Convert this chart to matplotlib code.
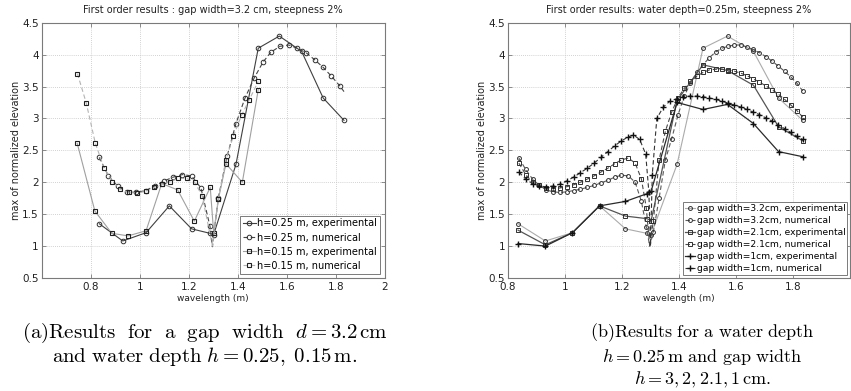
import matplotlib
matplotlib.use("Agg")
import matplotlib.pyplot as plt
from matplotlib.ticker import FixedLocator, FixedFormatter
from matplotlib.lines import Line2D

plt.rcParams['mathtext.fontset'] = 'cm'
plt.rcParams['font.family'] = ['DejaVu Sans']

# ---------------- data: panel (a) ----------------
x_exp25 = [0.835, 0.931, 1.026, 1.121, 1.212, 1.287, 1.302, 1.393, 1.484, 1.570, 1.661, 1.749, 1.834]
y_exp25 = [1.35, 1.08, 1.21, 1.63, 1.27, 1.20, 1.18, 2.28, 4.10, 4.29, 4.05, 3.32, 2.97]

x_num25 = [0.835, 0.872, 0.910, 0.948, 0.986, 1.024, 1.061, 1.099, 1.137, 1.174, 1.212, 1.250,
           1.287, 1.297, 1.321, 1.357, 1.393, 1.430, 1.467, 1.503, 1.536, 1.573, 1.609, 1.643,
           1.679, 1.714, 1.749, 1.783, 1.817, 1.834]
y_num25 = [2.39, 2.10, 1.94, 1.85, 1.84, 1.87, 1.94, 2.02, 2.08, 2.12, 2.10, 1.91,
           1.31, 0.99, 1.76, 2.41, 2.92, 3.32, 3.63, 3.88, 4.04, 4.13, 4.15, 4.10,
           4.03, 3.92, 3.80, 3.66, 3.51, 3.42]
mark_num25 = [i for i in range(len(x_num25)) if i not in (13, 29)]

x_exp15 = [0.745, 0.817, 0.886, 0.953, 1.026, 1.090, 1.155, 1.223, 1.288, 1.302, 1.321, 1.352, 1.419, 1.484]
y_exp15 = [2.61, 1.55, 1.20, 1.16, 1.24, 1.98, 1.88, 1.39, 1.92, 1.21, 1.73, 2.29, 2.00, 3.45]

x_num15 = [0.746, 0.782, 0.819, 0.854, 0.888, 0.921, 0.955, 0.991, 1.026, 1.059, 1.093, 1.125,
           1.158, 1.192, 1.224, 1.255, 1.297, 1.321, 1.352, 1.382, 1.416, 1.447, 1.484]
y_num15 = [3.70, 3.24, 2.61, 2.23, 2.01, 1.89, 1.84, 1.83, 1.86, 1.92, 1.97, 2.01,
           2.06, 2.06, 2.00, 1.79, 1.00, 1.73, 2.35, 2.72, 3.05, 3.29, 3.58]
mark_num15 = [i for i in range(len(x_num15)) if i != 16]

labels_a = ['h=0.25 m, experimental', 'h=0.25 m, numerical',
            'h=0.15 m, experimental', 'h=0.15 m, numerical']

# ---------------- data: panel (b) ----------------
x_exp = [0.835, 0.931, 1.026, 1.121, 1.212, 1.287, 1.302, 1.393, 1.484, 1.570, 1.661, 1.749, 1.834]
y_exp32 = [1.35, 1.08, 1.21, 1.63, 1.27, 1.20, 1.18, 2.28, 4.10, 4.29, 4.05, 3.32, 2.97]
y_exp21 = [1.25, 1.02, 1.21, 1.63, 1.47, 1.43, 1.40, 3.28, 3.84, 3.75, 3.52, 2.87, 2.65]
y_exp10 = [1.04, 1.00, 1.21, 1.63, 1.70, 1.82, 1.86, 3.25, 3.14, 3.22, 2.92, 2.48, 2.40]

x_num = [0.838, 0.862, 0.886, 0.910, 0.934, 0.958, 0.982, 1.006, 1.030, 1.054, 1.078, 1.102,
         1.126, 1.150, 1.174, 1.198, 1.222, 1.246, 1.268, 1.285, 1.297, 1.310, 1.330, 1.352,
         1.374, 1.396, 1.418, 1.440, 1.462, 1.484, 1.506, 1.528, 1.550, 1.572, 1.594, 1.616,
         1.638, 1.660, 1.682, 1.704, 1.726, 1.748, 1.770, 1.792, 1.814, 1.834]
y_num32 = [2.38, 2.20, 2.05, 1.95, 1.88, 1.85, 1.84, 1.85, 1.87, 1.89, 1.92, 1.95,
           1.99, 2.03, 2.08, 2.11, 2.10, 2.00, 1.70, 1.30, 1.00, 1.22, 1.75, 2.35,
           2.68, 3.05, 3.35, 3.55, 3.72, 3.84, 3.95, 4.04, 4.10, 4.13, 4.15, 4.15,
           4.12, 4.08, 4.03, 3.97, 3.90, 3.82, 3.74, 3.65, 3.55, 3.43]
y_num21 = [2.30, 2.12, 2.00, 1.95, 1.91, 1.90, 1.91, 1.93, 1.96, 2.00, 2.05, 2.10,
           2.16, 2.22, 2.29, 2.35, 2.38, 2.30, 2.05, 1.60, 1.00, 1.40, 2.35, 2.80,
           3.10, 3.32, 3.47, 3.58, 3.66, 3.72, 3.76, 3.77, 3.77, 3.76, 3.74, 3.71,
           3.67, 3.62, 3.57, 3.51, 3.45, 3.38, 3.30, 3.21, 3.12, 3.02]
mark_num = [i for i in range(len(x_num)) if i != 20]

x_num10 = [0.838, 0.862, 0.886, 0.910, 0.934, 0.958, 0.982, 1.006, 1.030, 1.054, 1.078, 1.102,
           1.126, 1.150, 1.174, 1.198, 1.222, 1.240, 1.262, 1.283, 1.294, 1.300, 1.306, 1.322,
           1.345, 1.368, 1.392, 1.415, 1.438, 1.462, 1.484, 1.506, 1.528, 1.550, 1.572, 1.594,
           1.616, 1.638, 1.660, 1.682, 1.704, 1.726, 1.748, 1.770, 1.792, 1.814, 1.834]
y_num10 = [2.16, 2.05, 1.98, 1.94, 1.93, 1.94, 1.97, 2.02, 2.08, 2.15, 2.22, 2.30,
           2.39, 2.48, 2.57, 2.65, 2.71, 2.74, 2.67, 2.44, 1.85, 1.00, 2.12, 3.00,
           3.18, 3.27, 3.31, 3.34, 3.35, 3.35, 3.34, 3.32, 3.30, 3.27, 3.24, 3.21,
           3.18, 3.14, 3.10, 3.06, 3.01, 2.96, 2.90, 2.84, 2.78, 2.72, 2.67]
mark_num10 = [i for i in range(len(x_num10)) if i != 21]

labels_b = ['gap width=3.2cm, experimental', 'gap width=3.2cm, numerical',
            'gap width=2.1cm, experimental', 'gap width=2.1cm, numerical',
            'gap width=1cm, experimental', 'gap width=1cm, numerical']

yticks = [0.5, 1, 1.5, 2, 2.5, 3, 3.5, 4, 4.5]
ytick_labels = ["0.5", "1", "1.5", "2", "2.5", "3", "3.5", "4", "4.5"]
xticks_a = [0.8, 1.0, 1.2, 1.4, 1.6, 1.8, 2.0]
xtick_labels_a = ["0.8", "1", "1.2", "1.4", "1.6", "1.8", "2"]
xticks_b = [0.8, 1.0, 1.2, 1.4, 1.6, 1.8]
xtick_labels_b = ["0.8", "1", "1.2", "1.4", "1.6", "1.8"]

# ---------------- figure ----------------
fig = plt.figure(figsize=(8.51, 3.91), dpi=100)
axA = fig.add_axes([0.049, 0.289, 0.403, 0.653])
axB = fig.add_axes([0.597, 0.289, 0.4019, 0.653])

DASH = (0, (4, 2.5))
MEC = '#303030'


def style(ax, xticks, xlabels, xlim):
    ax.set_xlim(*xlim)
    ax.set_ylim(0.5, 4.5)
    ax.xaxis.set_major_locator(FixedLocator(xticks))
    ax.xaxis.set_major_formatter(FixedFormatter(xlabels))
    ax.yaxis.set_major_locator(FixedLocator(yticks))
    ax.yaxis.set_major_formatter(FixedFormatter(ytick_labels))
    ax.grid(True, linestyle=(0, (1, 1.5)), color='#c4c4c4', linewidth=0.6)
    ax.set_axisbelow(True)
    for s in ax.spines.values():
        s.set_color('#7a7a7a')
        s.set_linewidth(0.8)
    ax.tick_params(direction='in', length=3, width=0.6, color='#7a7a7a',
                   labelsize=7.5, pad=2, top=True, right=True, labelcolor='#222222')
    ax.tick_params(axis='x', pad=3)
    ax.set_xlabel('wavelength (m)', fontsize=6.5, labelpad=1, color='#222222')
    ax.set_ylabel('max of normalized elevation', fontsize=7, labelpad=1, color='#222222')


def draw(ax, x, y, style_kw, markevery=None):
    ax.plot(x, y, markevery=markevery, **style_kw)
    return Line2D([], [], **style_kw)


# panel (a)
sty_a = [
    dict(linestyle='-', color='#404040', lw=0.8, marker='o', ms=3.3, mfc='none', mec=MEC, mew=0.7),
    dict(linestyle=DASH, color='#454545', lw=0.8, marker='o', ms=3.3, mfc='none', mec=MEC, mew=0.7),
    dict(linestyle='-', color='#a0a0a0', lw=0.8, marker='s', ms=3.5, mfc='none', mec='#202020', mew=0.8),
    dict(linestyle=DASH, color='#b4b4b4', lw=0.8, marker='s', ms=3.5, mfc='none', mec='#202020', mew=0.8),
]
hA = [draw(axA, x_exp25, y_exp25, sty_a[0]),
      draw(axA, x_num25, y_num25, sty_a[1], mark_num25),
      draw(axA, x_exp15, y_exp15, sty_a[2]),
      draw(axA, x_num15, y_num15, sty_a[3], mark_num15)]
style(axA, xticks_a, xtick_labels_a, (0.6, 2.0))
axA.set_title('First order results : gap width=3.2 cm, steepness 2%', fontsize=7,
              pad=7, color='#222222')
legA = axA.legend(hA, labels_a, loc='lower right', fontsize=7, handlelength=1.3,
                  handletextpad=0.2, borderpad=0.3, labelspacing=0.42, borderaxespad=0.45,
                  fancybox=False, framealpha=1, edgecolor='#7a7a7a', numpoints=1)
legA.get_frame().set_linewidth(0.7)

# panel (b)
sty_b = [
    dict(linestyle='-', color='#ababab', lw=0.8, marker='o', ms=2.8, mfc='none', mec=MEC, mew=0.7),
    dict(linestyle=DASH, color='#5a5a5a', lw=0.8, marker='o', ms=2.8, mfc='none', mec=MEC, mew=0.7),
    dict(linestyle='-', color='#555555', lw=0.9, marker='s', ms=3.0, mfc='none', mec=MEC, mew=0.7),
    dict(linestyle=DASH, color='#4a4a4a', lw=0.8, marker='s', ms=3.0, mfc='none', mec=MEC, mew=0.7),
    dict(linestyle='-', color='#2a2a2a', lw=0.9, marker='+', ms=4, mec='#111111', mew=1.0),
    dict(linestyle=DASH, color='#333333', lw=0.8, marker='+', ms=4, mec='#111111', mew=1.0),
]
hB = [draw(axB, x_exp, y_exp32, sty_b[0]),
      draw(axB, x_num, y_num32, sty_b[1], mark_num),
      draw(axB, x_exp, y_exp21, sty_b[2]),
      draw(axB, x_num, y_num21, sty_b[3], mark_num),
      draw(axB, x_exp, y_exp10, sty_b[4]),
      draw(axB, x_num10, y_num10, sty_b[5], mark_num10)]
style(axB, xticks_b, xtick_labels_b, (0.8, 2.0))
axB.set_title('First order results: water depth=0.25m, steepness 2%', fontsize=7,
              pad=7, color='#222222')
legB = axB.legend(hB, labels_b, loc='lower right', fontsize=6.6, handlelength=1.1,
                  handletextpad=0.2, borderpad=0.2, labelspacing=0.33, borderaxespad=0.3,
                  fancybox=False, framealpha=1, edgecolor='#7a7a7a', numpoints=1)
legB.get_frame().set_linewidth(0.7)

# captions
cap_a = dict(ha='center', va='center', fontsize=15, color='black')
cap_b = dict(ha='center', va='center', fontsize=13, color='black')
fig.text(205 / 851, 1 - 333 / 391,
         r'$\mathrm{(a)Results\ \ for\ \ a\ \ gap\ \ width\ \ }d=3.2\,\mathrm{cm}$', **cap_a)
fig.text(205 / 851, 1 - 357 / 391,
         r'$\mathrm{and\ water\ depth\ }h=0.25,\;0.15\,\mathrm{m.}$', **cap_a)
fig.text(702 / 851, 1 - 333 / 391,
         r'$\mathrm{(b)Results\ for\ a\ water\ depth}$', **cap_b)
fig.text(702 / 851, 1 - 357 / 391,
         r'$h=0.25\,\mathrm{m\ and\ gap\ width}$', **cap_b)
fig.text(702 / 851, 1 - 380 / 391,
         r'$h=3,2,2.1,1\,\mathrm{cm.}$', **cap_b)

fig.savefig('out.png', dpi=100)
